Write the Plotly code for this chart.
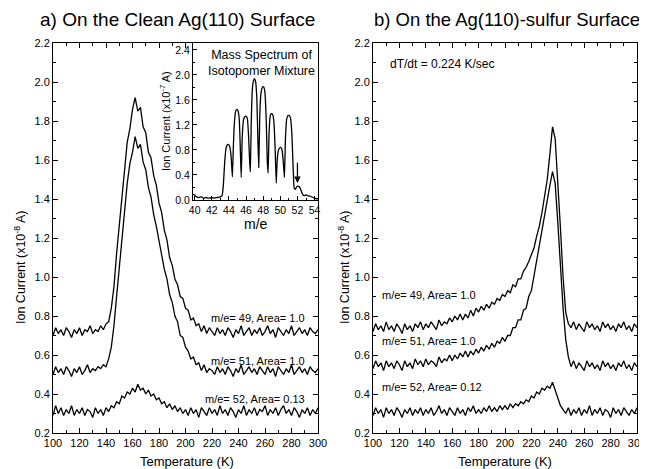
import plotly.graph_objects as go

# ---------------- data ----------------
temperature = list(range(100, 301, 2))  # K, sampling grid of the TPD traces

clean_m49 = [0.70, 0.74, 0.71, 0.73, 0.70, 0.74, 0.72, 0.69, 0.73, 0.71,
             0.74, 0.70, 0.73, 0.72, 0.75, 0.71, 0.73, 0.72, 0.75, 0.73,
             0.76, 0.77, 0.84, 0.95, 1.12, 1.26, 1.43, 1.55, 1.69, 1.76,
             1.86, 1.92, 1.85, 1.87, 1.77, 1.74, 1.64, 1.61, 1.52, 1.47,
             1.38, 1.33, 1.24, 1.19, 1.10, 1.06, 0.99, 0.96, 0.90, 0.89,
             0.84, 0.83, 0.78, 0.79, 0.75, 0.76, 0.72, 0.75, 0.71, 0.74,
             0.72, 0.70, 0.74, 0.71, 0.73, 0.70, 0.74, 0.72, 0.69, 0.73,
             0.71, 0.75, 0.70, 0.72, 0.74, 0.70, 0.73, 0.71, 0.74, 0.70,
             0.72, 0.75, 0.71, 0.73, 0.69, 0.74, 0.72, 0.70, 0.73, 0.71,
             0.75, 0.70, 0.72, 0.74, 0.71, 0.73, 0.70, 0.74, 0.72, 0.71,
             0.73]
clean_m51 = [0.50, 0.54, 0.51, 0.53, 0.50, 0.54, 0.52, 0.49, 0.53, 0.51,
             0.54, 0.50, 0.52, 0.55, 0.51, 0.53, 0.52, 0.54, 0.53, 0.55,
             0.54, 0.58, 0.64, 0.75, 0.90, 1.05, 1.22, 1.36, 1.48, 1.58,
             1.64, 1.72, 1.66, 1.68, 1.59, 1.55, 1.46, 1.41, 1.32, 1.26,
             1.18, 1.12, 1.04, 0.99, 0.91, 0.87, 0.80, 0.77, 0.70, 0.69,
             0.64, 0.62, 0.58, 0.59, 0.55, 0.56, 0.52, 0.55, 0.51, 0.53,
             0.52, 0.50, 0.54, 0.51, 0.53, 0.50, 0.54, 0.52, 0.49, 0.53,
             0.51, 0.55, 0.50, 0.52, 0.54, 0.51, 0.53, 0.50, 0.54, 0.52,
             0.50, 0.54, 0.51, 0.53, 0.49, 0.54, 0.52, 0.50, 0.53, 0.51,
             0.55, 0.50, 0.52, 0.54, 0.51, 0.53, 0.50, 0.54, 0.52, 0.51,
             0.53]
clean_m52 = [0.29, 0.34, 0.30, 0.33, 0.29, 0.32, 0.30, 0.34, 0.29, 0.32,
             0.30, 0.33, 0.29, 0.32, 0.31, 0.28, 0.33, 0.30, 0.32, 0.29,
             0.33, 0.31, 0.34, 0.33, 0.36, 0.35, 0.39, 0.38, 0.41, 0.40,
             0.43, 0.41, 0.45, 0.42, 0.43, 0.40, 0.42, 0.39, 0.40, 0.37,
             0.38, 0.35, 0.36, 0.33, 0.35, 0.32, 0.34, 0.31, 0.33, 0.30,
             0.32, 0.29, 0.33, 0.30, 0.32, 0.28, 0.33, 0.31, 0.29, 0.33,
             0.30, 0.32, 0.29, 0.34, 0.30, 0.32, 0.29, 0.33, 0.31, 0.28,
             0.32, 0.30, 0.34, 0.29, 0.32, 0.30, 0.33, 0.29, 0.32, 0.31,
             0.34, 0.29, 0.32, 0.30, 0.33, 0.29, 0.32, 0.34, 0.30, 0.32,
             0.29, 0.33, 0.31, 0.28, 0.32, 0.30, 0.33, 0.29, 0.32, 0.30,
             0.33]

sulfur_m49 = [0.72, 0.76, 0.73, 0.75, 0.72, 0.77, 0.73, 0.75, 0.72, 0.76,
              0.74, 0.71, 0.76, 0.73, 0.75, 0.72, 0.76, 0.74, 0.77, 0.73,
              0.76, 0.74, 0.77, 0.75, 0.73, 0.78, 0.75, 0.77, 0.76, 0.79,
              0.77, 0.80, 0.78, 0.81, 0.78, 0.81, 0.79, 0.83, 0.80, 0.84,
              0.82, 0.85, 0.83, 0.86, 0.84, 0.87, 0.86, 0.89, 0.88, 0.91,
              0.90, 0.93, 0.92, 0.96, 0.95, 0.99, 0.99, 1.03, 1.05, 1.08,
              1.12, 1.15, 1.21, 1.26, 1.33, 1.41, 1.50, 1.63, 1.77, 1.71,
              1.50, 1.25, 1.00, 0.82, 0.76, 0.74, 0.77, 0.73, 0.76, 0.74,
              0.72, 0.77, 0.74, 0.76, 0.73, 0.75, 0.72, 0.77, 0.74, 0.76,
              0.73, 0.75, 0.72, 0.76, 0.74, 0.77, 0.73, 0.75, 0.72, 0.76,
              0.74]
sulfur_m51 = [0.53, 0.57, 0.54, 0.56, 0.52, 0.57, 0.54, 0.56, 0.53, 0.57,
              0.55, 0.52, 0.57, 0.54, 0.56, 0.53, 0.58, 0.55, 0.57, 0.54,
              0.58, 0.55, 0.57, 0.56, 0.54, 0.59, 0.56, 0.58, 0.57, 0.60,
              0.57, 0.60, 0.58, 0.61, 0.59, 0.62, 0.59, 0.62, 0.60, 0.63,
              0.61, 0.64, 0.62, 0.65, 0.63, 0.66, 0.64, 0.67, 0.66, 0.69,
              0.67, 0.70, 0.70, 0.74, 0.74, 0.78, 0.78, 0.83, 0.84, 0.90,
              0.93, 1.01, 1.07, 1.16, 1.24, 1.33, 1.40, 1.47, 1.54, 1.48,
              1.28, 1.05, 0.84, 0.68, 0.59, 0.54, 0.57, 0.53, 0.56, 0.54,
              0.52, 0.57, 0.54, 0.56, 0.53, 0.55, 0.52, 0.57, 0.54, 0.56,
              0.53, 0.55, 0.52, 0.56, 0.54, 0.57, 0.53, 0.55, 0.52, 0.56,
              0.54]
sulfur_m52 = [0.29, 0.33, 0.30, 0.32, 0.28, 0.33, 0.30, 0.32, 0.29, 0.33,
              0.31, 0.28, 0.32, 0.30, 0.33, 0.29, 0.32, 0.30, 0.33, 0.29,
              0.32, 0.30, 0.33, 0.29, 0.31, 0.34, 0.30, 0.32, 0.29, 0.33,
              0.31, 0.29, 0.33, 0.30, 0.32, 0.29, 0.33, 0.31, 0.34, 0.30,
              0.32, 0.30, 0.33, 0.31, 0.34, 0.31, 0.33, 0.31, 0.34, 0.32,
              0.34, 0.32, 0.35, 0.33, 0.35, 0.34, 0.36, 0.35, 0.37, 0.36,
              0.39, 0.38, 0.41, 0.40, 0.43, 0.42, 0.44, 0.43, 0.46, 0.42,
              0.38, 0.34, 0.32, 0.30, 0.33, 0.29, 0.32, 0.30, 0.33, 0.29,
              0.32, 0.30, 0.34, 0.29, 0.32, 0.30, 0.33, 0.29, 0.32, 0.31,
              0.28, 0.33, 0.30, 0.32, 0.29, 0.33, 0.31, 0.29, 0.32, 0.30,
              0.33]

# inset: mass spectrum of the isotopomer mixture
mass_to_charge = [39.8, 40.0, 40.2, 40.5, 40.8, 41.0, 41.3, 41.6, 42.0, 42.3,
                  42.6, 43.0, 43.2, 43.35, 43.5, 43.65, 43.8, 43.95, 44.1, 44.25,
                  44.4, 44.5, 44.6, 44.75, 44.9, 45.05, 45.2, 45.32, 45.43, 45.55,
                  45.7, 45.85, 46.0, 46.15, 46.3, 46.42, 46.5, 46.6, 46.72, 46.85,
                  46.97, 47.1, 47.25, 47.38, 47.48, 47.6, 47.75, 47.9, 48.05, 48.2,
                  48.35, 48.48, 48.57, 48.68, 48.8, 48.95, 49.1, 49.25, 49.4, 49.52,
                  49.62, 49.75, 49.9, 50.05, 50.2, 50.35, 50.48, 50.6, 50.75, 50.9,
                  51.05, 51.2, 51.35, 51.5, 51.62, 51.75, 51.9, 52.05, 52.2, 52.35,
                  52.5, 52.65, 52.8, 53.0, 53.2, 53.5, 53.8, 54.0, 54.2, 54.4]
mass_current = [0.09, 0.08, 0.05, 0.04, 0.05, 0.03, 0.04, 0.03, 0.04, 0.03,
                0.04, 0.05, 0.07, 0.25, 0.60, 0.82, 0.88, 0.89, 0.85, 0.70,
                0.37, 0.80, 1.15, 1.40, 1.45, 1.43, 1.30, 0.85, 0.36, 1.00,
                1.28, 1.33, 1.34, 1.30, 1.00, 0.60, 0.45, 1.20, 1.75, 1.90,
                1.94, 1.90, 1.65, 0.95, 0.52, 1.35, 1.72, 1.80, 1.81, 1.72,
                1.30, 0.60, 0.43, 1.05, 1.33, 1.38, 1.37, 1.25, 0.80, 0.27,
                0.60, 0.78, 0.83, 0.84, 0.80, 0.60, 0.36, 1.00, 1.30, 1.35,
                1.35, 1.30, 1.05, 0.50, 0.19, 0.17, 0.21, 0.22, 0.21, 0.18,
                0.12, 0.08, 0.07, 0.08, 0.07, 0.06, 0.04, 0.03, 0.02, 0.02]

panel_titles = ["a) On the Clean Ag(110) Surface", "b) On the Ag(110)-sulfur Surface"]
clean_labels = ["m/e= 49, Area= 1.0", "m/e= 51, Area= 1.0", "m/e= 52, Area= 0.13"]
clean_label_y = [0.79, 0.57, 0.375]
sulfur_labels = ["m/e= 49, Area= 1.0", "m/e= 51, Area= 1.0", "m/e= 52, Area= 0.12"]
sulfur_label_y = [0.91, 0.67, 0.435]

# ---------------- figure ----------------
FONT = "Liberation Sans, Arial, sans-serif"
OFF = 8  # the page body has an 8 px margin, so the figure starts at (8, 8)
W, H = 647 - OFF, 469 - OFF


def px_x(p):
    return (p - OFF) / W


def px_y(p):
    return 1 - (p - OFF) / H


line = dict(color="black", width=1.3)
fig = go.Figure()
for ys in (clean_m49, clean_m51, clean_m52):
    fig.add_trace(go.Scatter(x=temperature, y=ys, mode="lines", line=line,
                             xaxis="x", yaxis="y", showlegend=False))
for ys in (sulfur_m49, sulfur_m51, sulfur_m52):
    fig.add_trace(go.Scatter(x=temperature, y=ys, mode="lines", line=line,
                             xaxis="x2", yaxis="y2", showlegend=False))
fig.add_trace(go.Scatter(x=mass_to_charge, y=mass_current, mode="lines",
                         line=dict(color="black", width=1.3, shape="spline", smoothing=0.4),
                         xaxis="x3", yaxis="y3", showlegend=False))

main_ydom = [px_y(433), px_y(43)]
common_x = dict(range=[100, 300], tick0=100, dtick=20, ticks="inside", ticklen=5,
                minor=dict(ticks="inside", ticklen=3, dtick=10, tick0=100),
                showline=True, linecolor="black", linewidth=1, mirror="allticks",
                showgrid=False, zeroline=False, tickcolor="black", automargin=False,
                ticklabeloverflow="allow",
                tickfont=dict(family=FONT, size=11, color="black"))
common_y = dict(range=[0.2, 2.2], tick0=0.2, dtick=0.2, ticks="inside", ticklen=5,
                minor=dict(ticks="inside", ticklen=3, dtick=0.1, tick0=0.2),
                tickformat=".1f", showline=True, linecolor="black", linewidth=1,
                mirror="allticks", showgrid=False, zeroline=False, tickcolor="black",
                automargin=False, ticklabeloverflow="allow",
                tickfont=dict(family=FONT, size=11, color="black"))

fig.update_layout(
    width=W, height=H, autosize=False,
    margin=dict(l=0, r=0, t=0, b=0, pad=0, autoexpand=False),
    paper_bgcolor="white", plot_bgcolor="white",
    font=dict(family=FONT, color="black"),
    xaxis=dict(domain=[px_x(53), px_x(318)], anchor="y", **common_x),
    yaxis=dict(domain=main_ydom, anchor="x", **common_y),
    xaxis2=dict(domain=[px_x(373), px_x(637)], anchor="y2", **common_x),
    yaxis2=dict(domain=main_ydom, anchor="x2", **common_y),
    xaxis3=dict(domain=[px_x(193), px_x(318)], anchor="y3", range=[39.8, 54.4],
                tick0=40, dtick=2, ticks="inside", ticklen=4,
                minor=dict(ticks="inside", ticklen=2, dtick=1, tick0=40),
                showline=True, linecolor="black", linewidth=1, showgrid=False,
                zeroline=False, tickcolor="black", automargin=False,
                ticklabeloverflow="allow",
                tickfont=dict(family=FONT, size=10.5, color="black")),
    yaxis3=dict(domain=[px_y(200), px_y(43)], anchor="x3", range=[0, 2.51],
                tick0=0, dtick=0.4, ticks="inside", ticklen=4, tickformat=".1f",
                minor=dict(ticks="inside", ticklen=2, dtick=0.2, tick0=0),
                showline=True, linecolor="black", linewidth=1, showgrid=False,
                zeroline=False, tickcolor="black", automargin=False,
                ticklabeloverflow="allow",
                tickfont=dict(family=FONT, size=10.5, color="black")),
)


def paper_text(text, xp, yp, size, angle=0, align="center"):
    return dict(text=text, x=px_x(xp), y=px_y(yp), xref="paper", yref="paper",
                xanchor="center", yanchor="middle", showarrow=False, textangle=angle,
                align=align, font=dict(size=size, family=FONT, color="black"))


ann = []
ann.append(paper_text(panel_titles[0], 177, 20, 19))
ann.append(paper_text(panel_titles[1], 507, 20, 18.5))
for xc in (187, 505):
    ann.append(paper_text("Temperature (K)", xc, 461, 13))
for xc in (20, 344):
    ann.append(paper_text("Ion Current (x10<sup>-8</sup> A)", xc, 268, 12.5, angle=-90))
ann.append(paper_text("Ion Current (x10<sup>-7</sup> A)", 165, 121, 11, angle=-90))
ann.append(paper_text("m/e", 256, 224, 14))
ann.append(paper_text("Mass Spectrum of<br>Isotopomer Mixture", 261, 63, 12.5))
# arrow at m/e = 52
ann.append(dict(x=52, y=0.27, ax=52, ay=0.62, xref="x3", yref="y3", axref="x3", ayref="y3",
                text="", showarrow=True, arrowhead=2, arrowsize=1, arrowwidth=1.3,
                arrowcolor="black"))
for t, yv in zip(clean_labels, clean_label_y):
    ann.append(dict(text=t, x=292, y=yv, xref="x", yref="y", xanchor="right",
                    yanchor="middle", showarrow=False,
                    font=dict(size=11, family=FONT, color="black")))
for t, yv in zip(sulfur_labels, sulfur_label_y):
    ann.append(dict(text=t, x=105, y=yv, xref="x2", yref="y2", xanchor="left",
                    yanchor="middle", showarrow=False,
                    font=dict(size=11, family=FONT, color="black")))
ann.append(dict(text="dT/dt = 0.224 K/sec", x=111, y=2.09, xref="x2", yref="y2",
                xanchor="left", yanchor="middle", showarrow=False,
                font=dict(size=12, family=FONT, color="black")))

fig.update_layout(annotations=ann)
fig.write_html("out.html")
